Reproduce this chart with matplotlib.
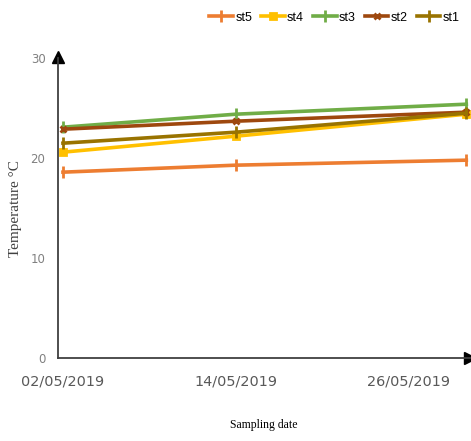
import matplotlib
matplotlib.use("Agg")
import matplotlib.pyplot as plt

# Sampling days counted from 02/05/2019, and the dates shown on the axis
sample_days = [0, 12, 28]
tick_days = [0, 12, 24]
tick_labels = ["02/05/2019", "14/05/2019", "26/05/2019"]

# Water temperature (°C) per station
st1 = [21.5, 22.6, 24.5]
st2 = [22.9, 23.7, 24.6]
st3 = [23.1, 24.4, 25.4]
st4 = [20.6, 22.2, 24.4]
st5 = [18.6, 19.3, 19.8]

series = [
    ("st5", st5, "#ED7D31", "|"),
    ("st4", st4, "#FFC000", "s"),
    ("st3", st3, "#70AD47", "|"),
    ("st2", st2, "#9E480E", "x"),
    ("st1", st1, "#997300", "|"),
]

fig = plt.figure(figsize=(4.71, 4.41), dpi=100)
ax = fig.add_axes([0.123, 0.188, 0.875, 0.680])

for name, vals, color, marker in series:
    ax.plot(sample_days, vals, color=color, lw=2.6, marker=marker,
            markersize=8 if marker == "|" else 4.5, markeredgewidth=2,
            label=name, clip_on=False)

ax.set_xlim(-0.35, 28.26)
ax.set_ylim(0, 30)
ax.set_xticks(tick_days)
ax.set_xticklabels(tick_labels, fontsize=10.4, color="#595959")
ax.set_yticks([0, 10, 20, 30])
ax.tick_params(axis="y", length=0, pad=9, labelsize=8.5, labelcolor="#808080")
ax.tick_params(axis="x", length=0, pad=12)

for side in ["top", "right"]:
    ax.spines[side].set_visible(False)
for side in ["left", "bottom"]:
    ax.spines[side].set_color("#404040")
    ax.spines[side].set_linewidth(1.3)

# arrow heads on the axes
ax.plot([0], [1.005], marker="^", color="black", markersize=8,
        transform=ax.transAxes, clip_on=False)
ax.plot([1.0], [0], marker=">", color="black", markersize=8,
        transform=ax.transAxes, clip_on=False)

ax.set_ylabel("Temperature °C", fontsize=11, family="Liberation Serif",
              color="#404040", labelpad=6)
ax.set_xlabel("Sampling date", fontsize=8.5, family="Liberation Serif",
              labelpad=22)

fig.legend(loc="center", bbox_to_anchor=(0.71, 0.96), ncol=5, frameon=False,
           handlelength=1.9, handletextpad=0.2, columnspacing=0.7,
           prop={"family": "Liberation Sans", "size": 9})

fig.savefig("out.png", dpi=100)
